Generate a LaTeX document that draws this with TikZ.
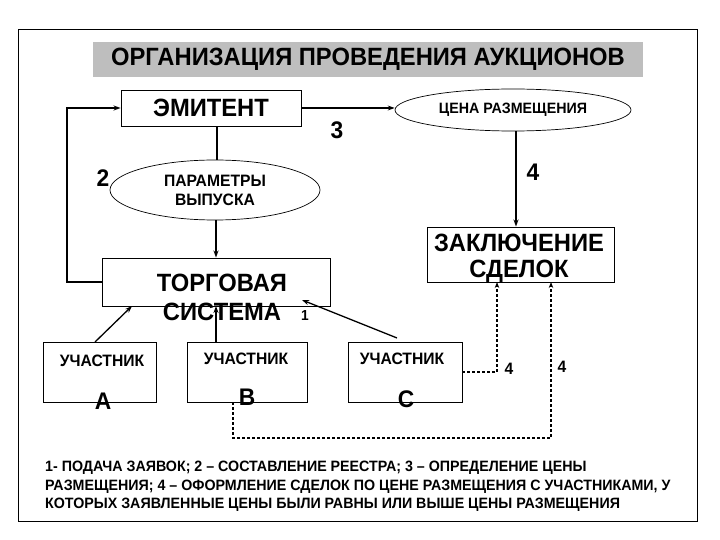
\documentclass[tikz,border=0pt]{standalone}
\usepackage{fontspec}
\setmainfont[FakeStretch=0.95]{Liberation Sans}
\usetikzlibrary{shapes.geometric,arrows.meta,calc}
\definecolor{titlegrey}{RGB}{190,190,190}
\begin{document}
\begin{tikzpicture}[x=1pt,y=-1pt,
  fbig/.style={font=\bfseries\fontsize{25}{27}\selectfont},
  fnum/.style={font=\bfseries\fontsize{24}{26}\selectfont},
  fabc/.style={font=\bfseries\fontsize{24}{26}\selectfont},
  fmed/.style={font=\bfseries\fontsize{16.5}{18}\selectfont},
  fsm/.style={font=\bfseries\fontsize{15}{17}\selectfont},
  fone/.style={font=\bfseries\fontsize{14.5}{16}\selectfont},
  fleg/.style={font=\bfseries\fontsize{15}{17}\selectfont},
  rbox/.style={draw,line width=0.9pt,inner sep=0pt},
  oval/.style={draw,ellipse,line width=0.7pt,inner sep=0pt},
  arr/.style={line width=1.3pt,-{Stealth[length=7pt,width=5pt]}},
  ln/.style={line width=1.1pt},
  dsh/.style={line width=1.3pt,dash pattern=on 3pt off 2pt,-{Stealth[length=6pt,width=4.5pt]}},
  lbl/.style={inner sep=0pt}
]
\useasboundingbox (0,0) rectangle (720,540);
\draw[line width=1pt] (18,30) rectangle (697,521);

\node[fill=titlegrey,minimum width=550pt,minimum height=35pt,inner sep=0pt,fbig] (title) at (368,59.5) {ОРГАНИЗАЦИЯ ПРОВЕДЕНИЯ АУКЦИОНОВ};

\node[rbox,minimum width=180pt,minimum height=36pt,fbig] (emit) at (211,108) {ЭМИТЕНТ};
\node[oval,minimum width=236pt,minimum height=42pt,fsm] (price) at (513,110) {ЦЕНА РАЗМЕЩЕНИЯ};
\node[oval,minimum width=210pt,minimum height=60pt,fmed,align=center] (param) at (215,190) {ПАРАМЕТРЫ\\[1pt]ВЫПУСКА};

\node[rbox,minimum width=228pt,minimum height=48pt] (torg) at (216,282) {};
\node[lbl,fbig] (torgA) at (222,283) {ТОРГОВАЯ};
\node[lbl,fbig] (torgB) at (222,312) {СИСТЕМА};

\node[rbox,minimum width=187pt,minimum height=55pt] (zakl) at (520.5,254.5) {};
\node[lbl,fbig] (zaklA) at (519,243) {ЗАКЛЮЧЕНИЕ};
\node[lbl,fbig] (zaklB) at (519,271) {СДЕЛОК};

\node[rbox,minimum width=113pt,minimum height=60pt] (partA) at (99.5,372) {};
\node[rbox,minimum width=120pt,minimum height=60pt] (partB) at (247,372) {};
\node[rbox,minimum width=114pt,minimum height=60pt] (partC) at (405,372) {};
\node[lbl,fmed] (uA) at (102,361) {УЧАСТНИК};
\node[lbl,fmed] (uB) at (246,359) {УЧАСТНИК};
\node[lbl,fmed] (uC) at (402,359) {УЧАСТНИК};
\node[lbl,fabc] (lA) at (103,401) {А};
\node[lbl,fabc] (lB) at (247,397) {В};
\node[lbl,fabc] (lC) at (406,399) {С};

\node[lbl,fnum] (n3) at (337,130) {3};
\node[lbl,fnum] (n2) at (103,178) {2};
\node[lbl,fnum] (n4) at (533,172) {4};
\node[lbl,fone] (n1) at (305,316) {1};
\node[lbl,fmed] (n4a) at (509,369) {4};
\node[lbl,fmed] (n4b) at (562,367) {4};

% connectors
\draw[arr] (emit.east) -- (emit.east -| price.west);
\draw[ln] (param.north -| 217,0) -- (emit.south -| 217,0);
\draw[arr] (param.south -| 216,0) -- (torg.north -| 216,0);
\coordinate (fb) at (67,282);
\draw[arr] (torg.west) -- (fb) |- (emit.west);
\draw[arr] (price.south -| 516,0) -- (zakl.north -| 516,0);

\coordinate (aS) at (95,342);
\coordinate (aT) at (132,306);
\draw[arr] (aS) -- (aT);
\coordinate (bS) at (216,342);
\coordinate (bT) at (216,306);
\draw[arr] (bS) -- (bT);
\coordinate (cS) at (397,338);
\coordinate (cT) at (302,300);
\draw[arr] (cS) -- (cT);

\coordinate (z1) at (497,282);
\draw[dsh] (partC.east) -| (z1);
\coordinate (bd) at (233,402);
\coordinate (z2) at (551,282);
\draw[dsh] (bd) -- (233,438) -| (z2);

% legend
\node[lbl,fleg,anchor=west] (leg1) at (45,468) {1- ПОДАЧА ЗАЯВОК; 2 – СОСТАВЛЕНИЕ РЕЕСТРА; 3 – ОПРЕДЕЛЕНИЕ ЦЕНЫ};
\node[lbl,fleg,anchor=west] (leg2) at (45,486.5) {РАЗМЕЩЕНИЯ; 4 – ОФОРМЛЕНИЕ СДЕЛОК ПО ЦЕНЕ РАЗМЕЩЕНИЯ С УЧАСТНИКАМИ, У};
\node[lbl,fleg,anchor=west] (leg3) at (45,505) {КОТОРЫХ ЗАЯВЛЕННЫЕ ЦЕНЫ БЫЛИ РАВНЫ ИЛИ ВЫШЕ ЦЕНЫ РАЗМЕЩЕНИЯ};
\end{tikzpicture}
\end{document}
